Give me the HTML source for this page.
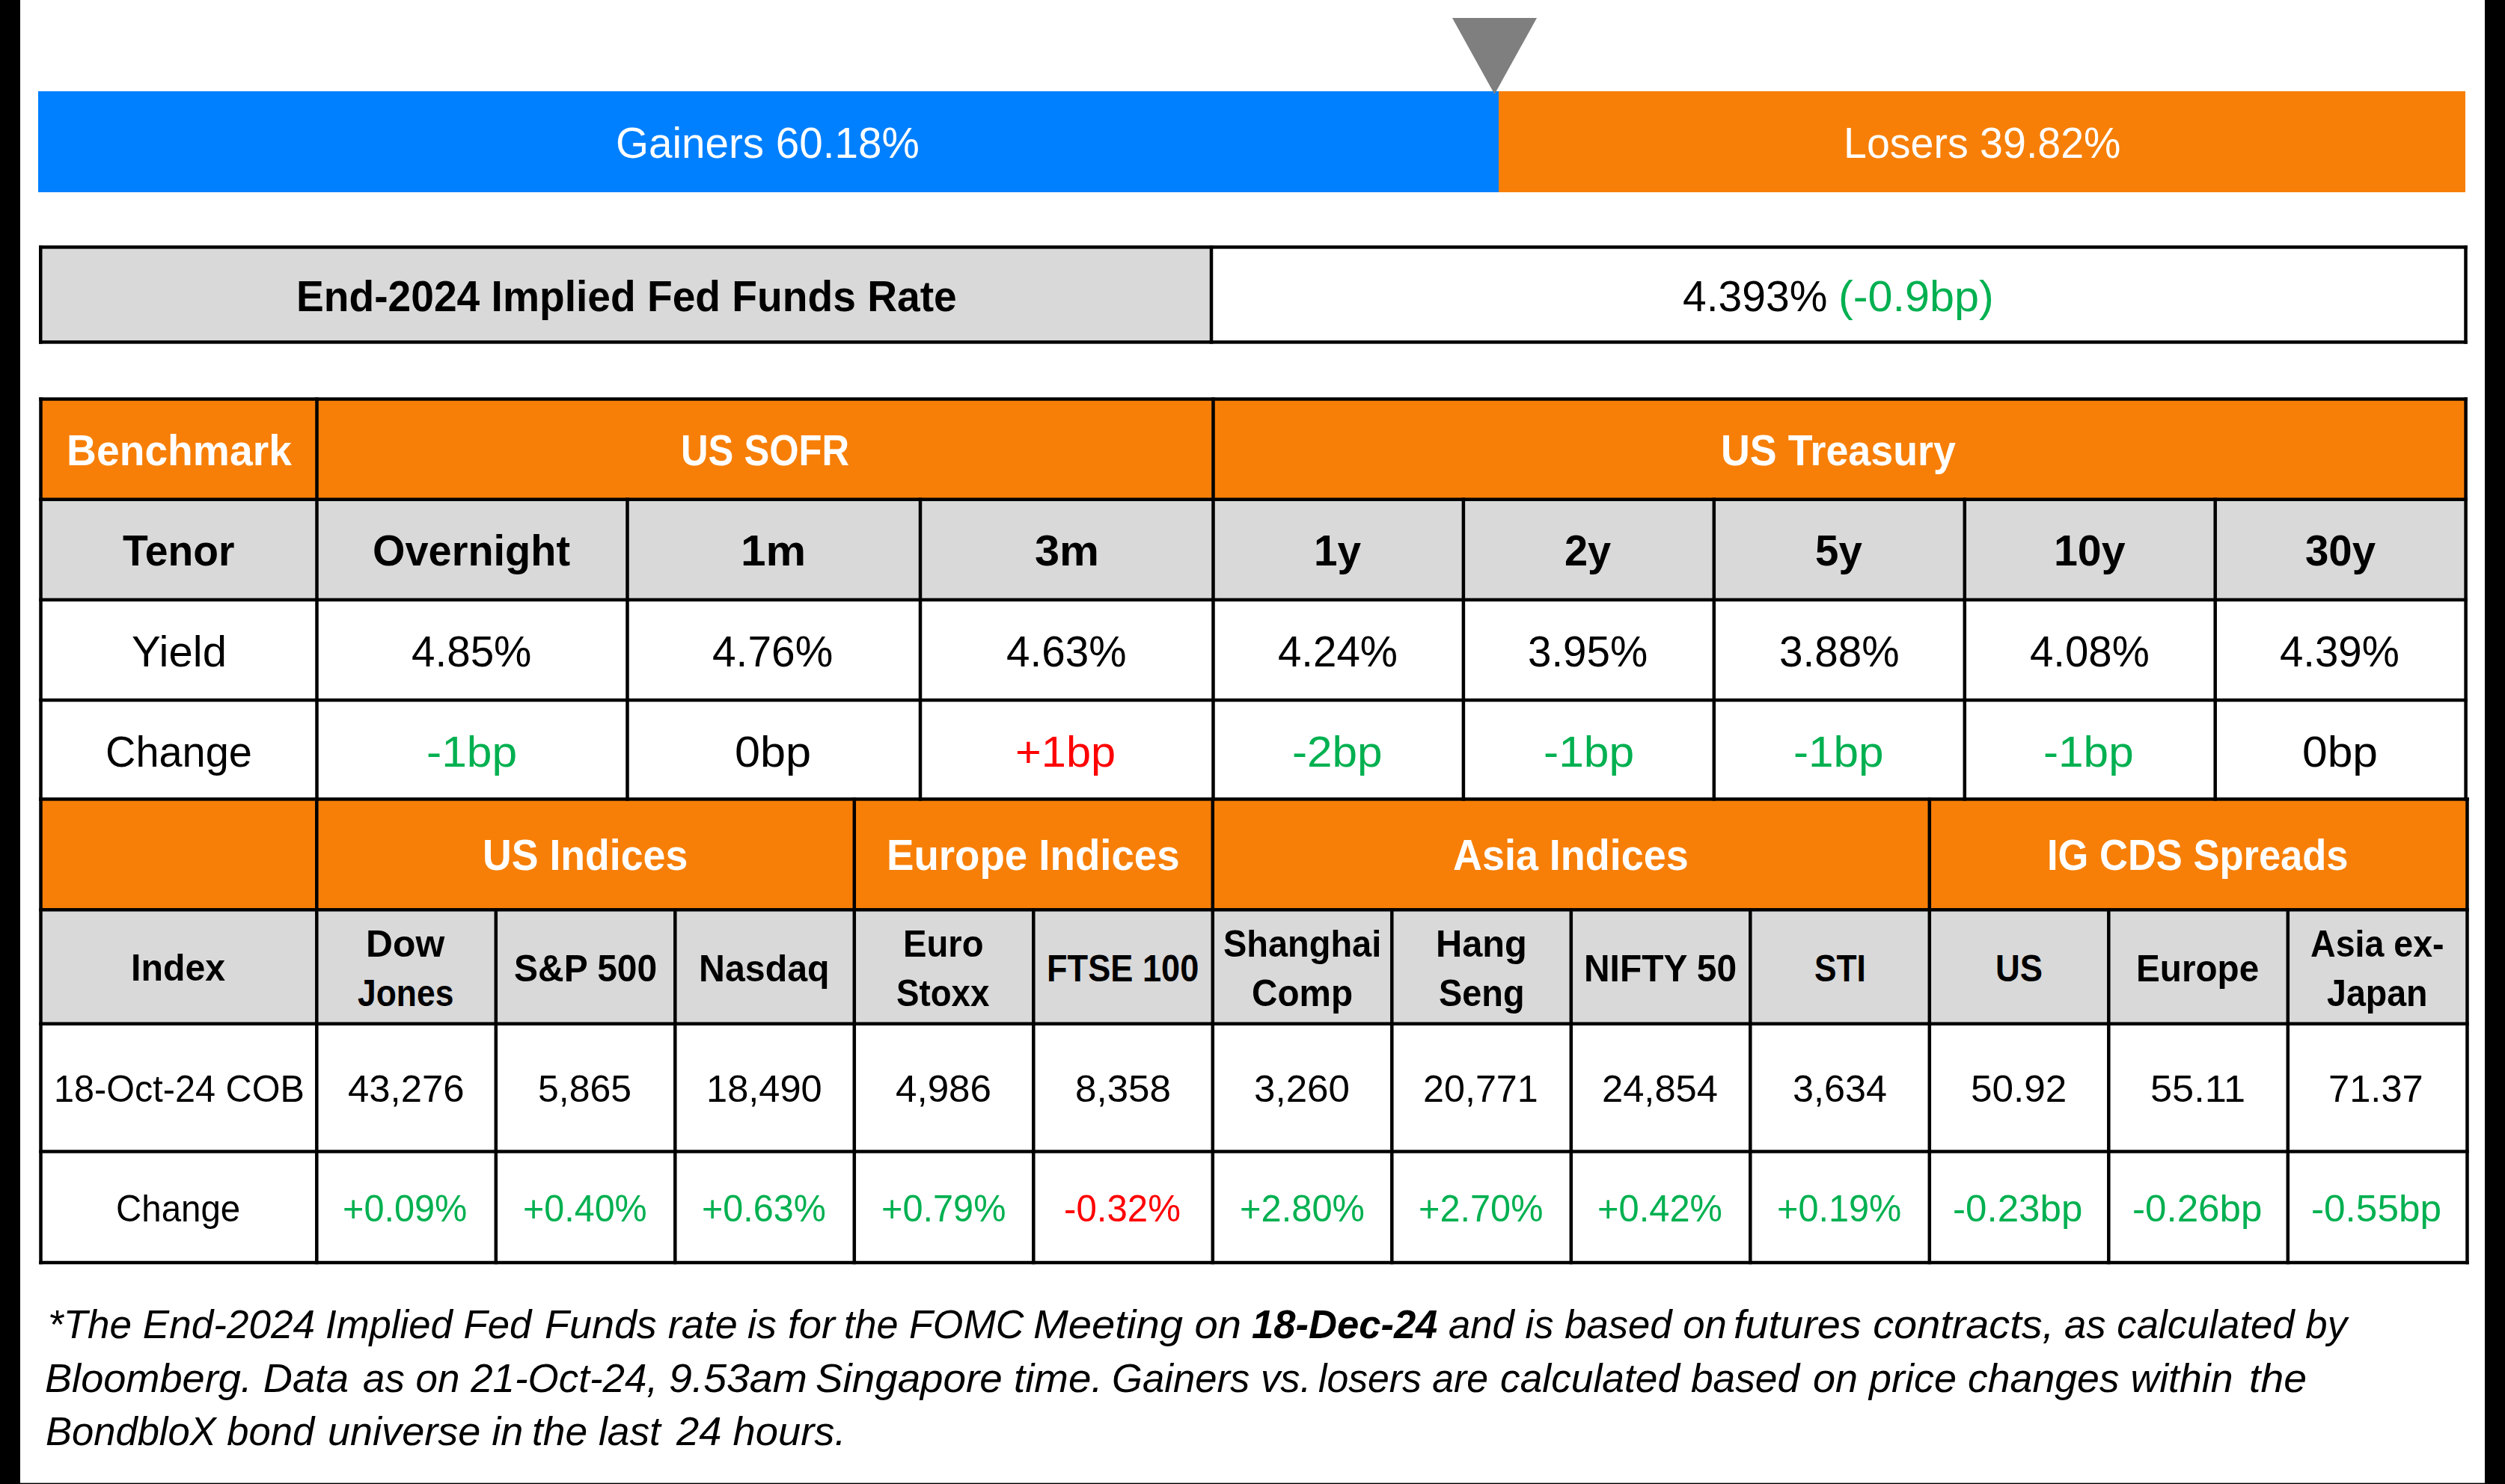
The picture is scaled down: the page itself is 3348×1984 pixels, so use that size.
<!DOCTYPE html>
<html><head><meta charset="utf-8"><title>Markets</title>
<style>
html,body{margin:0;padding:0;background:#fff;}
body{width:3348px;height:1984px;position:relative;overflow:hidden;font-family:"Liberation Sans",sans-serif;}
.r,.l,.t{position:absolute;}
.l{background:#000;}
.t{white-space:nowrap;transform-origin:0 0;line-height:1;}
</style></head><body>
<svg class="r" style="left:0;top:0" width="3348" height="1984" viewBox="0 0 3348 1984">
<rect x="0.00" y="0.00" width="27.00" height="1984.00" fill="#000"/>
<rect x="3321.00" y="0.00" width="27.00" height="1984.00" fill="#000"/>
<rect x="0.00" y="1982.60" width="3348.00" height="1.40" fill="#000"/>
<rect x="51.00" y="122.00" width="1952.00" height="135.00" fill="#0080FF"/>
<rect x="2003.00" y="122.00" width="1292.00" height="135.00" fill="#F77F07"/>
<rect x="54.25" y="330.40" width="1564.75" height="127.00" fill="#D9D9D9"/>
<rect x="54.50" y="533.50" width="3241.10" height="134.20" fill="#F77F07"/>
<rect x="54.50" y="667.70" width="3241.10" height="134.20" fill="#D9D9D9"/>
<rect x="54.50" y="1068.40" width="3243.00" height="147.90" fill="#F77F07"/>
<rect x="54.50" y="1216.30" width="3243.00" height="152.40" fill="#D9D9D9"/>
<polygon points="1941,24 2054,24 1997.5,126" fill="#7F7F7F"/>
<g fill="#000">
<rect x="52.00" y="328.15" width="3245.75" height="4.50"/>
<rect x="52.00" y="455.15" width="3245.75" height="4.50"/>
<rect x="52.00" y="328.15" width="4.50" height="131.50"/>
<rect x="1616.75" y="328.15" width="4.50" height="131.50"/>
<rect x="3293.25" y="328.15" width="4.50" height="131.50"/>
<rect x="52.25" y="531.25" width="3245.60" height="4.50"/>
<rect x="52.25" y="665.45" width="3245.60" height="4.50"/>
<rect x="52.25" y="799.65" width="3245.60" height="4.50"/>
<rect x="52.25" y="933.75" width="3245.60" height="4.50"/>
<rect x="52.25" y="531.25" width="4.50" height="539.40"/>
<rect x="421.25" y="531.25" width="4.50" height="539.40"/>
<rect x="836.25" y="665.45" width="4.50" height="405.20"/>
<rect x="1227.75" y="665.45" width="4.50" height="405.20"/>
<rect x="1619.25" y="531.25" width="4.50" height="539.40"/>
<rect x="1953.65" y="665.45" width="4.50" height="405.20"/>
<rect x="2288.55" y="665.45" width="4.50" height="405.20"/>
<rect x="2623.55" y="665.45" width="4.50" height="405.20"/>
<rect x="2958.45" y="665.45" width="4.50" height="405.20"/>
<rect x="3293.35" y="531.25" width="4.50" height="539.40"/>
<rect x="52.25" y="1066.15" width="3247.50" height="4.50"/>
<rect x="52.25" y="1214.05" width="3247.50" height="4.50"/>
<rect x="52.25" y="1366.45" width="3247.50" height="4.50"/>
<rect x="52.25" y="1537.25" width="3247.50" height="4.50"/>
<rect x="52.25" y="1685.75" width="3247.50" height="4.50"/>
<rect x="52.25" y="1066.15" width="4.50" height="624.10"/>
<rect x="421.05" y="1066.15" width="4.50" height="624.10"/>
<rect x="660.55" y="1214.05" width="4.50" height="476.20"/>
<rect x="900.05" y="1214.05" width="4.50" height="476.20"/>
<rect x="1139.55" y="1066.15" width="4.50" height="624.10"/>
<rect x="1379.05" y="1214.05" width="4.50" height="476.20"/>
<rect x="1618.55" y="1066.15" width="4.50" height="624.10"/>
<rect x="1858.05" y="1214.05" width="4.50" height="476.20"/>
<rect x="2097.55" y="1214.05" width="4.50" height="476.20"/>
<rect x="2337.05" y="1214.05" width="4.50" height="476.20"/>
<rect x="2576.55" y="1066.15" width="4.50" height="624.10"/>
<rect x="2816.05" y="1214.05" width="4.50" height="476.20"/>
<rect x="3055.55" y="1214.05" width="4.50" height="476.20"/>
<rect x="3295.25" y="1066.15" width="4.50" height="624.10"/>
</g></svg>
<div class="t" id="t0" style="left:823.40px;top:162.00px;font-size:58.00px;color:#fff;transform:scaleX(0.9755);">Gainers 60.18%</div>
<div class="t" id="t1" style="left:2464.49px;top:162.00px;font-size:58.00px;color:#fff;transform:scaleX(0.9575);">Losers 39.82%</div>
<div class="t" id="t2" style="left:395.63px;top:367.00px;font-size:58.00px;font-weight:bold;transform:scaleX(0.9510);">End-2024 Implied Fed Funds Rate</div>
<div class="t" id="t3" style="left:2249.22px;top:367.00px;font-size:58.00px;transform:scaleX(0.9827);">4.393%</div>
<div class="t" id="t4" style="left:2457.22px;top:367.00px;font-size:58.00px;color:#00B050;transform:scaleX(1.0232);">(-0.9bp)</div>
<div class="t" id="t5" style="left:88.71px;top:573.00px;font-size:58.00px;font-weight:bold;color:#fff;transform:scaleX(0.9526);">Benchmark</div>
<div class="t" id="t6" style="left:910.34px;top:573.00px;font-size:58.00px;font-weight:bold;color:#fff;transform:scaleX(0.8727);">US SOFR</div>
<div class="t" id="t7" style="left:2300.46px;top:573.00px;font-size:58.00px;font-weight:bold;color:#fff;transform:scaleX(0.9272);">US Treasury</div>
<div class="t" id="t8" style="left:163.74px;top:707.00px;font-size:58.00px;font-weight:bold;transform:scaleX(0.9528);">Tenor</div>
<div class="t" id="t9" style="left:498.18px;top:707.00px;font-size:58.00px;font-weight:bold;transform:scaleX(0.9639);">Overnight</div>
<div class="t" id="t10" style="left:989.85px;top:707.00px;font-size:58.00px;font-weight:bold;transform:scaleX(1.0402);">1m</div>
<div class="t" id="t11" style="left:1383.15px;top:707.00px;font-size:58.00px;font-weight:bold;transform:scaleX(1.0268);">3m</div>
<div class="t" id="t12" style="left:1755.83px;top:707.00px;font-size:58.00px;font-weight:bold;transform:scaleX(0.9790);">1y</div>
<div class="t" id="t13" style="left:2091.05px;top:707.00px;font-size:58.00px;font-weight:bold;transform:scaleX(0.9647);">2y</div>
<div class="t" id="t14" style="left:2425.64px;top:707.00px;font-size:58.00px;font-weight:bold;transform:scaleX(0.9731);">5y</div>
<div class="t" id="t15" style="left:2744.55px;top:707.00px;font-size:58.00px;font-weight:bold;transform:scaleX(0.9878);">10y</div>
<div class="t" id="t16" style="left:3080.66px;top:707.00px;font-size:58.00px;font-weight:bold;transform:scaleX(0.9724);">30y</div>
<div class="t" id="t17" style="left:175.50px;top:842.00px;font-size:58.00px;transform:scaleX(1.0011);">Yield</div>
<div class="t" id="t18" style="left:550.25px;top:842.00px;font-size:58.00px;transform:scaleX(0.9753);">4.85%</div>
<div class="t" id="t19" style="left:952.49px;top:842.00px;font-size:58.00px;transform:scaleX(0.9801);">4.76%</div>
<div class="t" id="t20" style="left:1344.60px;top:842.00px;font-size:58.00px;transform:scaleX(0.9759);">4.63%</div>
<div class="t" id="t21" style="left:1708.27px;top:842.00px;font-size:58.00px;transform:scaleX(0.9723);">4.24%</div>
<div class="t" id="t22" style="left:2042.24px;top:842.00px;font-size:58.00px;transform:scaleX(0.9741);">3.95%</div>
<div class="t" id="t23" style="left:2377.74px;top:842.00px;font-size:58.00px;transform:scaleX(0.9762);">3.88%</div>
<div class="t" id="t24" style="left:2712.53px;top:842.00px;font-size:58.00px;transform:scaleX(0.9720);">4.08%</div>
<div class="t" id="t25" style="left:3047.02px;top:842.00px;font-size:58.00px;transform:scaleX(0.9720);">4.39%</div>
<div class="t" id="t26" style="left:140.87px;top:976.00px;font-size:58.00px;transform:scaleX(0.9642);">Change</div>
<div class="t" id="t27" style="left:569.82px;top:976.00px;font-size:58.00px;color:#00B050;transform:scaleX(1.0441);">-1bp</div>
<div class="t" id="t28" style="left:981.57px;top:976.00px;font-size:58.00px;transform:scaleX(1.0557);">0bp</div>
<div class="t" id="t29" style="left:1356.92px;top:976.00px;font-size:58.00px;color:#FF0000;transform:scaleX(1.0268);">+1bp</div>
<div class="t" id="t30" style="left:1727.36px;top:976.00px;font-size:58.00px;color:#00B050;transform:scaleX(1.0388);">-2bp</div>
<div class="t" id="t31" style="left:2062.57px;top:976.00px;font-size:58.00px;color:#00B050;transform:scaleX(1.0443);">-1bp</div>
<div class="t" id="t32" style="left:2396.87px;top:976.00px;font-size:58.00px;color:#00B050;transform:scaleX(1.0392);">-1bp</div>
<div class="t" id="t33" style="left:2731.42px;top:976.00px;font-size:58.00px;color:#00B050;transform:scaleX(1.0397);">-1bp</div>
<div class="t" id="t34" style="left:3077.16px;top:976.00px;font-size:58.00px;transform:scaleX(1.0438);">0bp</div>
<div class="t" id="t35" style="left:645.28px;top:1114.00px;font-size:58.00px;font-weight:bold;color:#fff;transform:scaleX(0.9249);">US Indices</div>
<div class="t" id="t36" style="left:1184.64px;top:1114.00px;font-size:58.00px;font-weight:bold;color:#fff;transform:scaleX(0.9419);">Europe Indices</div>
<div class="t" id="t37" style="left:1942.31px;top:1114.00px;font-size:58.00px;font-weight:bold;color:#fff;transform:scaleX(0.9296);">Asia Indices</div>
<div class="t" id="t38" style="left:2736.43px;top:1114.00px;font-size:58.00px;font-weight:bold;color:#fff;transform:scaleX(0.9050);">IG CDS Spreads</div>
<div class="t" id="t39" style="left:174.88px;top:1269.00px;font-size:50.60px;font-weight:bold;transform:scaleX(0.9540);">Index</div>
<div class="t" id="t40" style="left:489.07px;top:1237.00px;font-size:50.60px;font-weight:bold;transform:scaleX(0.9853);">Dow</div>
<div class="t" id="t41" style="left:478.33px;top:1303.00px;font-size:50.60px;font-weight:bold;transform:scaleX(0.8778);">Jones</div>
<div class="t" id="t42" style="left:687.24px;top:1270.00px;font-size:50.60px;font-weight:bold;transform:scaleX(0.9485);">S&amp;P 500</div>
<div class="t" id="t43" style="left:933.74px;top:1270.00px;font-size:50.60px;font-weight:bold;transform:scaleX(0.9555);">Nasdaq</div>
<div class="t" id="t44" style="left:1207.04px;top:1237.00px;font-size:50.60px;font-weight:bold;transform:scaleX(0.9333);">Euro</div>
<div class="t" id="t45" style="left:1197.87px;top:1303.00px;font-size:50.60px;font-weight:bold;transform:scaleX(0.9029);">Stoxx</div>
<div class="t" id="t46" style="left:1399.04px;top:1270.00px;font-size:50.60px;font-weight:bold;transform:scaleX(0.8927);">FTSE 100</div>
<div class="t" id="t47" style="left:1634.73px;top:1237.00px;font-size:50.60px;font-weight:bold;transform:scaleX(0.9276);">Shanghai</div>
<div class="t" id="t48" style="left:1672.50px;top:1303.00px;font-size:50.60px;font-weight:bold;transform:scaleX(0.9424);">Comp</div>
<div class="t" id="t49" style="left:1918.63px;top:1237.00px;font-size:50.60px;font-weight:bold;transform:scaleX(0.9635);">Hang</div>
<div class="t" id="t50" style="left:1922.99px;top:1303.00px;font-size:50.60px;font-weight:bold;transform:scaleX(0.9258);">Seng</div>
<div class="t" id="t51" style="left:2116.97px;top:1270.00px;font-size:50.60px;font-weight:bold;transform:scaleX(0.9466);">NIFTY 50</div>
<div class="t" id="t52" style="left:2424.69px;top:1270.00px;font-size:50.60px;font-weight:bold;transform:scaleX(0.8753);">STI</div>
<div class="t" id="t53" style="left:2666.83px;top:1270.00px;font-size:50.60px;font-weight:bold;transform:scaleX(0.8964);">US</div>
<div class="t" id="t54" style="left:2855.07px;top:1270.00px;font-size:50.60px;font-weight:bold;transform:scaleX(0.9417);">Europe</div>
<div class="t" id="t55" style="left:3088.06px;top:1237.00px;font-size:50.60px;font-weight:bold;transform:scaleX(0.9203);">Asia ex-</div>
<div class="t" id="t56" style="left:3110.13px;top:1303.00px;font-size:50.60px;font-weight:bold;transform:scaleX(0.9199);">Japan</div>
<div class="t" id="t57" style="left:71.50px;top:1431.00px;font-size:50.20px;transform:scaleX(0.9682);">18-Oct-24 COB</div>
<div class="t" id="t58" style="left:464.75px;top:1431.00px;font-size:50.20px;transform:scaleX(1.0135);">43,276</div>
<div class="t" id="t59" style="left:718.55px;top:1431.00px;font-size:50.20px;transform:scaleX(0.9945);">5,865</div>
<div class="t" id="t60" style="left:943.97px;top:1431.00px;font-size:50.20px;transform:scaleX(1.0077);">18,490</div>
<div class="t" id="t61" style="left:1197.23px;top:1431.00px;font-size:50.20px;transform:scaleX(1.0192);">4,986</div>
<div class="t" id="t62" style="left:1436.85px;top:1431.00px;font-size:50.20px;transform:scaleX(1.0185);">8,358</div>
<div class="t" id="t63" style="left:1676.26px;top:1431.00px;font-size:50.20px;transform:scaleX(1.0185);">3,260</div>
<div class="t" id="t64" style="left:1902.34px;top:1431.00px;font-size:50.20px;transform:scaleX(1.0016);">20,771</div>
<div class="t" id="t65" style="left:2141.27px;top:1431.00px;font-size:50.20px;transform:scaleX(1.0094);">24,854</div>
<div class="t" id="t66" style="left:2395.59px;top:1431.00px;font-size:50.20px;transform:scaleX(1.0023);">3,634</div>
<div class="t" id="t67" style="left:2633.86px;top:1431.00px;font-size:50.20px;transform:scaleX(1.0213);">50.92</div>
<div class="t" id="t68" style="left:2874.19px;top:1431.00px;font-size:50.20px;transform:scaleX(1.0421);">55.11</div>
<div class="t" id="t69" style="left:3112.14px;top:1431.00px;font-size:50.20px;transform:scaleX(1.0092);">71.37</div>
<div class="t" id="t70" style="left:155.31px;top:1591.00px;font-size:50.20px;transform:scaleX(0.9455);">Change</div>
<div class="t" id="t71" style="left:458.35px;top:1591.00px;font-size:50.20px;color:#00B050;transform:scaleX(0.9695);">+0.09%</div>
<div class="t" id="t72" style="left:699.06px;top:1591.00px;font-size:50.20px;color:#00B050;transform:scaleX(0.9656);">+0.40%</div>
<div class="t" id="t73" style="left:938.13px;top:1591.00px;font-size:50.20px;color:#00B050;transform:scaleX(0.9669);">+0.63%</div>
<div class="t" id="t74" style="left:1177.60px;top:1591.00px;font-size:50.20px;color:#00B050;transform:scaleX(0.9701);">+0.79%</div>
<div class="t" id="t75" style="left:1421.99px;top:1591.00px;font-size:50.20px;color:#FF0000;transform:scaleX(0.9805);">-0.32%</div>
<div class="t" id="t76" style="left:1656.57px;top:1591.00px;font-size:50.20px;color:#00B050;transform:scaleX(0.9731);">+2.80%</div>
<div class="t" id="t77" style="left:1896.34px;top:1591.00px;font-size:50.20px;color:#00B050;transform:scaleX(0.9701);">+2.70%</div>
<div class="t" id="t78" style="left:2135.32px;top:1591.00px;font-size:50.20px;color:#00B050;transform:scaleX(0.9731);">+0.42%</div>
<div class="t" id="t79" style="left:2374.85px;top:1591.00px;font-size:50.20px;color:#00B050;transform:scaleX(0.9690);">+0.19%</div>
<div class="t" id="t80" style="left:2610.48px;top:1591.00px;font-size:50.20px;color:#00B050;transform:scaleX(1.0189);">-0.23bp</div>
<div class="t" id="t81" style="left:2849.72px;top:1591.00px;font-size:50.20px;color:#00B050;transform:scaleX(1.0187);">-0.26bp</div>
<div class="t" id="t82" style="left:3089.16px;top:1591.00px;font-size:50.20px;color:#00B050;transform:scaleX(1.0222);">-0.55bp</div>
<div class="t" id="t83" style="left:64.02px;top:1744.00px;font-size:54.50px;font-style:italic;transform:scaleX(0.9735);">*The End-2024</div>
<div class="t" id="t84" style="left:434.76px;top:1744.00px;font-size:54.50px;font-style:italic;transform:scaleX(0.9670);">Implied Fed</div>
<div class="t" id="t85" style="left:728.26px;top:1744.00px;font-size:54.50px;font-style:italic;transform:scaleX(0.9891);">Funds rate</div>
<div class="t" id="t86" style="left:999.26px;top:1744.00px;font-size:54.50px;font-style:italic;transform:scaleX(0.9905);">is for</div>
<div class="t" id="t87" style="left:1127.98px;top:1744.00px;font-size:54.50px;font-style:italic;transform:scaleX(0.9569);">the FOMC</div>
<div class="t" id="t88" style="left:1380.96px;top:1744.00px;font-size:54.50px;font-style:italic;transform:scaleX(1.0314);">Meeting on</div>
<div class="t" id="t89" style="left:1672.52px;top:1744.00px;font-size:54.50px;font-style:italic;transform:scaleX(0.9644);"><b>18-Dec-24</b></div>
<div class="t" id="t90" style="left:1935.68px;top:1744.00px;font-size:54.50px;font-style:italic;transform:scaleX(0.9663);">and is based on</div>
<div class="t" id="t91" style="left:2316.96px;top:1744.00px;font-size:54.50px;font-style:italic;transform:scaleX(1.0244);">futures contracts,</div>
<div class="t" id="t92" style="left:2759.37px;top:1744.00px;font-size:54.50px;font-style:italic;transform:scaleX(0.9672);">as calculated by</div>
<div class="t" id="t93" style="left:60.48px;top:1816.00px;font-size:54.50px;font-style:italic;transform:scaleX(0.9932);">Bloomberg. Data</div>
<div class="t" id="t94" style="left:484.86px;top:1816.00px;font-size:54.50px;font-style:italic;transform:scaleX(0.9708);">as on 21-Oct-24,</div>
<div class="t" id="t95" style="left:893.71px;top:1816.00px;font-size:54.50px;font-style:italic;transform:scaleX(1.0165);">9.53am</div>
<div class="t" id="t96" style="left:1089.95px;top:1816.00px;font-size:54.50px;font-style:italic;transform:scaleX(1.0050);">Singapore time.</div>
<div class="t" id="t97" style="left:1486.05px;top:1816.00px;font-size:54.50px;font-style:italic;transform:scaleX(0.9661);">Gainers vs.</div>
<div class="t" id="t98" style="left:1761.86px;top:1816.00px;font-size:54.50px;font-style:italic;transform:scaleX(0.9489);">losers are</div>
<div class="t" id="t99" style="left:2005.23px;top:1816.00px;font-size:54.50px;font-style:italic;transform:scaleX(0.9783);">calculated based</div>
<div class="t" id="t100" style="left:2423.44px;top:1816.00px;font-size:54.50px;font-style:italic;transform:scaleX(0.9905);">on price</div>
<div class="t" id="t101" style="left:2630.03px;top:1816.00px;font-size:54.50px;font-style:italic;transform:scaleX(0.9833);">changes within</div>
<div class="t" id="t102" style="left:3005.86px;top:1816.00px;font-size:54.50px;font-style:italic;transform:scaleX(1.0158);">the</div>
<div class="t" id="t103" style="left:61.40px;top:1887.00px;font-size:54.50px;font-style:italic;transform:scaleX(0.9635);">BondbloX bond</div>
<div class="t" id="t104" style="left:438.23px;top:1887.00px;font-size:54.50px;font-style:italic;transform:scaleX(0.9915);">universe in</div>
<div class="t" id="t105" style="left:711.22px;top:1887.00px;font-size:54.50px;font-style:italic;transform:scaleX(0.9783);">the last</div>
<div class="t" id="t106" style="left:903.94px;top:1887.00px;font-size:54.50px;font-style:italic;transform:scaleX(0.9972);">24 hours.</div>
</body></html>
